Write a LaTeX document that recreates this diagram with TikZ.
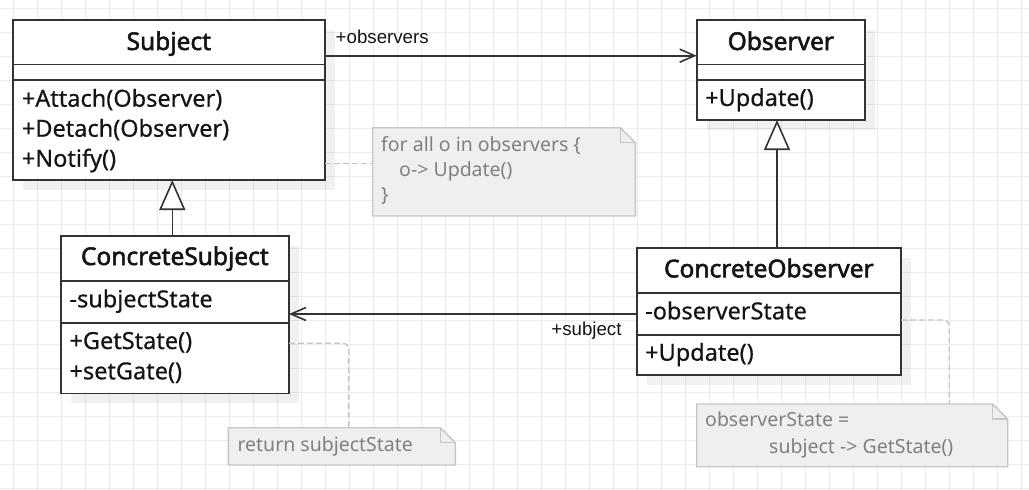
\documentclass[tikz,border=0pt]{standalone}
\usepackage{fontspec}
\setmainfont{Noto Sans}[AutoFakeBold=2.2]
\newfontfamily\memberfont{Noto Sans}[FakeBold=0.5]
\newfontfamily\assocfont{Liberation Sans}
\usetikzlibrary{arrows.meta,calc,shadows}

\definecolor{ink}{HTML}{333333}
\definecolor{typeink}{HTML}{141414}
\definecolor{gridc}{HTML}{EBEBEB}
\definecolor{notefill}{HTML}{EFEFEF}
\definecolor{noteline}{HTML}{C6C6C6}
\definecolor{notetext}{HTML}{808080}
\definecolor{tetherc}{HTML}{C4C4C4}

% folded-corner note sheet around a named area node
\newcommand\notesheetfor[1]{%
  \draw[notepaper] (#1.north west) -- ($(#1.north east)+(-15,0)$)
    -- ($(#1.north east)+(0,15)$) -- (#1.south east) -- (#1.south west) -- cycle;
  \draw[notepaper, fill=none] ($(#1.north east)+(-15,0)$)
    -- ($(#1.north east)+(-15,15)$) -- ($(#1.north east)+(0,15)$);
}

\begin{document}
\begin{tikzpicture}[x=1pt,y=-1pt,
  classbox/.style={draw=ink, line width=1.6pt, fill=white, inner sep=0pt,
    outer sep=0pt, anchor=north west,
    general shadow={fill=black, opacity=0.055, shadow xshift=10pt, shadow yshift=-10pt}},
  divider/.style={draw=ink, line width=1.6pt},
  classtitle/.style={anchor=base, inner sep=0pt, text=typeink,
    font=\fontsize{24.5}{28}\selectfont\bfseries},
  member/.style={anchor=base west, inner sep=0pt, text=typeink,
    font=\memberfont\fontsize{23.5}{28}\selectfont},
  realize/.style={draw=ink, line width=1.6pt,
    -{Triangle[length=30pt,width=26pt,fill=white]}},
  assoc/.style={draw=ink, line width=1.6pt,
    -{Straight Barb[length=15pt,width=13pt]}},
  assoclabel/.style={inner sep=0pt, text=typeink,
    font=\assocfont\fontsize{18.7}{22}\selectfont},
  notearea/.style={inner sep=0pt, outer sep=0pt, anchor=north west},
  notepaper/.style={draw=noteline, fill=notefill, line width=1.4pt, line join=miter},
  notetxt/.style={anchor=base west, inner sep=0pt, text=notetext,
    font=\fontsize{19.5}{24}\selectfont},
  tether/.style={draw=tetherc, line width=1.3pt, dash pattern=on 6pt off 3pt},
]
\useasboundingbox (0,0) rectangle (1029,490);
\fill[white] (0,0) rectangle (1029,490);

% background grid
\foreach \gx in {13.5,37.5,...,1029} \draw[gridc, line width=1pt] (\gx,0) -- (\gx,490);
\foreach \gy in {8.5,32.5,...,490} \draw[gridc, line width=1pt] (0,\gy) -- (1029,\gy);

% ---------- classes ----------
\node[classbox, minimum width=312.3pt, minimum height=160pt] (subj) at (12.7,20) {};
\draw[divider] (subj.west |- 0,64.5) -- (subj.east |- 0,64.5);
\draw[divider] (subj.west |- 0,80) -- (subj.east |- 0,80);
\node[classtitle] (subjT) at (168.85,50) {Subject};
\node[member] (subjM1) at (21.7,106.7) {+Attach(Observer)};
\node[member] (subjM2) at (21.7,136.7) {+Detach(Observer)};
\node[member] (subjM3) at (21.7,166.7) {+Notify()};

\node[classbox, minimum width=168.3pt, minimum height=100pt] (obs) at (696.7,20) {};
\draw[divider] (obs.west |- 0,64.5) -- (obs.east |- 0,64.5);
\draw[divider] (obs.west |- 0,80) -- (obs.east |- 0,80);
\node[classtitle] (obsT) at (780.85,50) {Observer};
\node[member] (obsM1) at (705,106) {+Update()};

\node[classbox, minimum width=228.3pt, minimum height=157.6pt] (csubj) at (60.7,235.7) {};
\draw[divider] (csubj.west |- 0,281) -- (csubj.east |- 0,281);
\draw[divider] (csubj.west |- 0,322.7) -- (csubj.east |- 0,322.7);
\node[classtitle] (csubjT) at (174.85,265) {ConcreteSubject};
\node[member] (csubjA1) at (69.3,307.3) {-subjectState};
\node[member] (csubjM1) at (69.3,349) {+GetState()};
\node[member] (csubjM2) at (69.3,379.3) {+setGate()};

\node[classbox, minimum width=264.3pt, minimum height=127.3pt] (cobs) at (636.7,247.7) {};
\draw[divider] (cobs.west |- 0,292.7) -- (cobs.east |- 0,292.7);
\draw[divider] (cobs.west |- 0,334.7) -- (cobs.east |- 0,334.7);
\node[classtitle] (cobsT) at (768.85,277.3) {ConcreteObserver};
\node[member] (cobsA1) at (645,319.3) {-observerState};
\node[member] (cobsM1) at (645,360.7) {+Update()};

% ---------- relations ----------
\draw[realize] (csubj.north -| 172.3,0) -- (subj.south -| 172.3,0);
\draw[realize] (cobs.north -| 777,0) -- (obs.south -| 777,0);
\draw[assoc] (subj.east |- 0,55.7) -- (obs.west |- 0,55.7);
\draw[assoc] (cobs.west |- 0,314) -- (csubj.east |- 0,314);
\node[assoclabel, anchor=base west] (lblObservers) at (335.5,43.3) {+observers};
\node[assoclabel, anchor=base east] (lblSubject) at (621.7,335) {+subject};

% ---------- notes ----------
\node[notearea, minimum width=262.6pt, minimum height=88.3pt] (n1) at (372.7,127.7) {};
\node[notearea, minimum width=227pt, minimum height=37.3pt] (n2) at (228.3,427.7) {};
\node[notearea, minimum width=311pt, minimum height=62.7pt] (n3) at (696.7,404) {};

\draw[tether] (subj.east |- 0,163.3) -- (n1.west |- 0,163.3);
\draw[tether, rounded corners=6pt] (csubj.east |- 0,343.3) -| (n2.north -| 348.7,0);
\draw[tether, rounded corners=6pt] (cobs.east |- 0,320) -| (n3.north -| 949.3,0);

\notesheetfor{n1}
\notesheetfor{n2}
\notesheetfor{n3}

\node[notetxt] (n1L1) at (381,151.7) {for all o in observers \{};
\node[notetxt] (n1L2) at (399,176.7) {o-> Update()};
\node[notetxt] (n1L3) at (381,201) {\}};
\node[notetxt] (n2L1) at (237.3,451.7) {return subjectState};
\node[notetxt] (n3L1) at (705,426.7) {observerState =};
\node[notetxt] (n3L2) at (769,453.3) {subject -> GetState()};
\end{tikzpicture}
\end{document}
